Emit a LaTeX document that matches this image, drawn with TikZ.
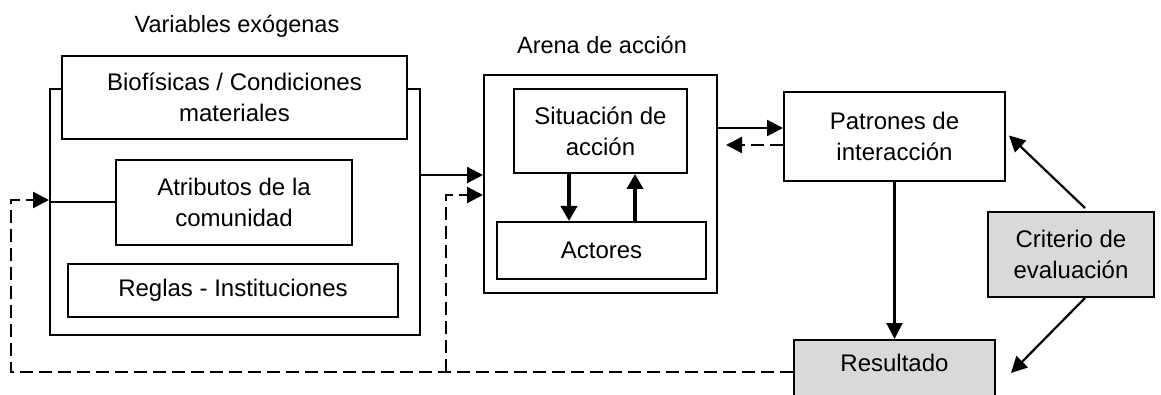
\documentclass[tikz,border=0pt]{standalone}
\usepackage{fontspec}
\setmainfont{Liberation Sans}
\usetikzlibrary{arrows.meta}
\definecolor{boxgray}{HTML}{D9D9D9}
\begin{document}
\begin{tikzpicture}[x=1pt,y=-1pt,
  box/.style={draw=black, line width=2pt, fill=white, inner sep=0pt, align=center,
    font=\fontsize{24}{31}\selectfont},
  lbl/.style={font=\fontsize{23.5}{28}\selectfont, inner sep=0pt},
  arr/.style={line width=2.2pt, -{Triangle[length=16pt,width=16pt]}},
  darr/.style={line width=2.2pt, dash pattern=on 13pt off 6pt, -{Triangle[length=16pt,width=16pt]}},
  tarr/.style={line width=4pt, -{Triangle[length=15pt,width=16pt]}}]
\useasboundingbox (0,0) rectangle (1161,395);

% Variables exogenas
\node[lbl] (vlab) at (237,26) {Variables exógenas};
\node[box, minimum width=370, minimum height=246] (outer) at (235,212) {};
\node[box, minimum width=345, minimum height=83] (bio) at (234.5,97.5) {Biofísicas / Condiciones\\materiales};
\node[box, minimum width=236, minimum height=85] (atr) at (234,202.5) {Atributos de la\\comunidad};
\node[box, minimum width=330, minimum height=53] (reg) at (233,290.5) {Reglas - Instituciones};
\draw[line width=2pt] (outer.west |- atr.west) -- (atr.west);

% Arena
\node[lbl] (alab) at (602,45) {Arena de acción};
\node[box, minimum width=233, minimum height=218] (arena) at (600.5,184) {};
\node[box, minimum width=173, minimum height=84] (sit) at (600.5,131) {Situación de\\acción};
\node[box, minimum width=209, minimum height=57] (act) at (601.5,250.5) {Actores};
\draw[tarr] ([xshift=-31.5pt]sit.south) -- ([xshift=-32.5pt]act.north);
\draw[tarr] ([xshift=33.5pt]act.north) -- ([xshift=34.5pt]sit.south);

% Right side
\node[box, minimum width=221, minimum height=89] (pat) at (894.5,136.5) {Patrones de\\interacción};
\node[box, fill=boxgray, minimum width=166, minimum height=85] (cri) at (1071,254.5) {Criterio de\\evaluación};
\node[box, fill=boxgray, minimum width=201, minimum height=80, anchor=north] (res) at (894.5,339) {};
\node[font=\fontsize{24}{31}\selectfont, inner sep=0pt] (restxt) at ([yshift=-24pt]res.north) {Resultado};

% connectors
\draw[arr] ([yshift=37pt]outer.east) -- ([yshift=9pt]arena.west);
\draw[arr] ([yshift=56pt]arena.east) -- ([yshift=8.5pt]pat.west);
\draw[darr, shorten >=8pt] ([yshift=-8.5pt]pat.west) -- ([yshift=39pt]arena.east);
\draw[arr] (pat.south) -- (res.north);
\draw[arr] ([xshift=14pt,yshift=3pt]cri.north) -- ([xshift=3pt,yshift=1pt]pat.east);
\draw[arr] ([xshift=14pt]cri.south) -- ([xshift=15pt,yshift=7pt]res.east);

\coordinate (j) at ([xshift=-347pt,yshift=8pt]res.west);
\draw[darr] ([yshift=8pt]res.west) -- ([xshift=-782pt,yshift=8pt]res.west) |- ([yshift=12pt]outer.west);
\draw[darr] (j) |- ([yshift=-11pt]arena.west);
\end{tikzpicture}
\end{document}
